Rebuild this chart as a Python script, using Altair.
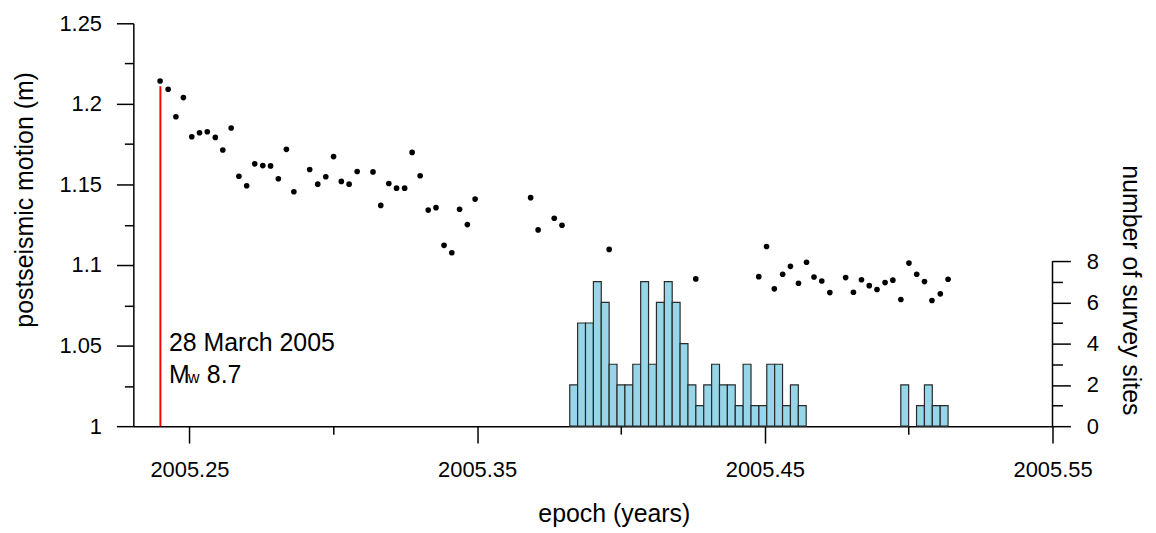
import altair as alt
import pandas as pd

# ---- data ----
# postseismic motion: epoch (decimal years) and motion (m)
epoch = [2005.2398, 2005.2426, 2005.2453, 2005.2479, 2005.2508, 2005.2535, 2005.2562, 2005.2590,
         2005.2616, 2005.2645, 2005.2672, 2005.2699, 2005.2727, 2005.2755, 2005.2782, 2005.2809,
         2005.2837, 2005.2863, 2005.2918, 2005.2946, 2005.2974, 2005.3001, 2005.3028, 2005.3055,
         2005.3083, 2005.3138, 2005.3165, 2005.3193, 2005.3220, 2005.3248, 2005.3274, 2005.3302,
         2005.3330, 2005.3357, 2005.3385, 2005.3412, 2005.3439, 2005.3466, 2005.3493, 2005.3686,
         2005.3712, 2005.3768, 2005.3795, 2005.3959, 2005.4260, 2005.4479, 2005.4506, 2005.4533,
         2005.4562, 2005.4589, 2005.4617, 2005.4645, 2005.4671, 2005.4698, 2005.4726, 2005.4781,
         2005.4808, 2005.4836, 2005.4863, 2005.4890, 2005.4918, 2005.4945, 2005.4973, 2005.5001,
         2005.5028, 2005.5055, 2005.5081, 2005.5110, 2005.5137]
motion = [1.2142, 1.2091, 1.1920, 1.2039, 1.1796, 1.1821, 1.1827, 1.1792,
          1.1714, 1.1850, 1.1551, 1.1492, 1.1628, 1.1617, 1.1615, 1.1535,
          1.1718, 1.1455, 1.1593, 1.1502, 1.1548, 1.1673, 1.1519, 1.1502,
          1.1580, 1.1578, 1.1370, 1.1506, 1.1477, 1.1477, 1.1699, 1.1554,
          1.1341, 1.1356, 1.1122, 1.1076, 1.1346, 1.1251, 1.1409, 1.1418,
          1.1218, 1.1290, 1.1247, 1.1097, 1.0914, 1.0928, 1.1115, 1.0852,
          1.0943, 1.0992, 1.0887, 1.1017, 1.0926, 1.0901, 1.0829, 1.0922,
          1.0831, 1.0909, 1.0872, 1.0848, 1.0891, 1.0906, 1.0786, 1.1012,
          1.0943, 1.0897, 1.0780, 1.0821, 1.0912]

# number of survey sites per day (day of year 2005)
site_day = [140, 141, 142, 143, 144, 145, 146, 147, 148, 149, 150, 151, 152, 153, 154,
            155, 156, 157, 158, 159, 160, 161, 162, 163, 164, 165, 166, 167, 168, 169,
            182, 184, 185, 186, 187]
site_count = [2, 5, 5, 7, 6, 3, 2, 2, 3, 7, 3, 6, 7, 6, 4,
              2, 1, 2, 3, 2, 2, 1, 3, 1, 1, 3, 3, 1, 2, 1,
              2, 1, 2, 1, 1]

quake_epoch = 2005.2399
quake_top = 1.211
annot_x = 2005.2429
annot_lines = ["28 March 2005", "M"]
annot_y = [1.0465, 1.0270]

x_ticks = [2005.25, 2005.30, 2005.35, 2005.40, 2005.45, 2005.50, 2005.55]
y_ticks = [1.0, 1.025, 1.05, 1.075, 1.1, 1.125, 1.15, 1.175, 1.2, 1.225, 1.25]
count_ticks = [0, 1, 2, 3, 4, 5, 6, 7, 8]
x_domain = [2005.2305, 2005.55]
y_domain = [1.0, 1.25]
count_domain = [0, 19.52]

FONT = "Liberation Sans"
W, H = 924, 405

pts = pd.DataFrame({"epoch": epoch, "motion": motion})
bins = pd.DataFrame({"day": site_day, "count": site_count})
bins["left"] = 2005 + (bins["day"] - 0.5) / 365
bins["right"] = 2005 + (bins["day"] + 0.5) / 365
bins["zero"] = 0

xscale = alt.Scale(domain=x_domain, nice=False, zero=False)
yscale = alt.Scale(domain=y_domain, nice=False, zero=False)
cscale = alt.Scale(domain=count_domain, nice=False, zero=True)

common = dict(grid=False, domainColor="black", domainWidth=1.5, tickColor="black",
              tickWidth=1.5, labelFont=FONT, labelFontSize=22, labelColor="black",
              titleFont=FONT, titleFontSize=25, titleFontWeight="normal", titleColor="black",
              labelOverlap=False, labelFlush=False)

major_x = "abs((datum.value - 2005.25) * 10 - round((datum.value - 2005.25) * 10)) < 0.01"
xaxis = alt.Axis(values=x_ticks, title="epoch (years)", orient="bottom",
                 tickSize={"condition": {"test": major_x, "value": 17}, "value": 8},
                 labelExpr=f"{major_x} ? format(datum.value, '.2f') : ''",
                 labelPadding=17, titleX=483, titleY=96, titleAlign="center",
                 titleBaseline="alphabetic", titleAngle=0, **common)

major_y = "abs(datum.value * 20 - round(datum.value * 20)) < 0.01"
yaxis = alt.Axis(values=y_ticks, title="postseismic motion (m)", orient="left",
                 tickSize={"condition": {"test": major_y, "value": 17}, "value": 9},
                 labelExpr=f"{major_y} ? format(datum.value, '~g') : ''",
                 labelPadding=15, titleX=-101, titleY=177, titleAlign="center",
                 titleBaseline="alphabetic", titleAngle=270, **common)

major_c = "datum.value % 2 == 0"
caxis = alt.Axis(values=count_ticks, title="number of survey sites", orient="right",
                 domain=False,
                 tickSize={"condition": {"test": major_c, "value": 18}, "value": 10},
                 labelExpr=f"{major_c} ? format(datum.value, 'd') : ''",
                 labelPadding=16, titleX=70, titleY=268, titleAlign="center",
                 titleBaseline="alphabetic", titleAngle=90, **common)

bars = alt.Chart(bins).mark_bar(color="#96d6e8", stroke="#2a2a2a", strokeWidth=1.2).encode(
    x=alt.X("left:Q", scale=xscale, axis=xaxis),
    x2="right:Q",
    y=alt.Y("count:Q", scale=cscale, axis=caxis),
    y2="zero:Q",
)

right_line = alt.Chart(pd.DataFrame({"xr": [x_ticks[-1]], "c0": [count_ticks[0]], "c1": [count_ticks[-1]]})).mark_rule(
    color="black", strokeWidth=1.5).encode(
    x=alt.X("xr:Q", scale=xscale, axis=xaxis),
    y=alt.Y("c0:Q", scale=cscale, axis=caxis),
    y2="c1:Q",
)

points = alt.Chart(pts).mark_circle(size=32, color="black", opacity=1).encode(
    x=alt.X("epoch:Q", scale=xscale, axis=xaxis),
    y=alt.Y("motion:Q", scale=yscale, axis=yaxis),
)

quake = alt.Chart(pd.DataFrame({"eq": [quake_epoch], "m0": [y_domain[0]], "m1": [quake_top]})).mark_rule(
    color="#ff0000", strokeWidth=2).encode(
    x=alt.X("eq:Q", scale=xscale, axis=xaxis),
    y=alt.Y("m0:Q", scale=yscale, axis=yaxis),
    y2="m1:Q",
)

ann = pd.DataFrame({"ax": [annot_x] * 2, "ay": annot_y, "label": annot_lines})
t_main = alt.Chart(ann).mark_text(align="left", baseline="alphabetic", fontSize=25, font=FONT,
                                  color="black").encode(
    x=alt.X("ax:Q", scale=xscale, axis=xaxis),
    y=alt.Y("ay:Q", scale=yscale, axis=yaxis),
    text="label:N",
)
sub = pd.DataFrame({"ax": [annot_x], "ay": [annot_y[1]], "label": ["w"]})
t_sub = alt.Chart(sub).mark_text(align="left", baseline="alphabetic", fontSize=16, font=FONT,
                                 color="black", dx=19).encode(
    x=alt.X("ax:Q", scale=xscale, axis=xaxis),
    y=alt.Y("ay:Q", scale=yscale, axis=yaxis),
    text="label:N",
)
mag = pd.DataFrame({"ax": [annot_x], "ay": [annot_y[1]], "label": ["8.7"]})
t_mag = alt.Chart(mag).mark_text(align="left", baseline="alphabetic", fontSize=25, font=FONT,
                                 color="black", dx=38).encode(
    x=alt.X("ax:Q", scale=xscale, axis=xaxis),
    y=alt.Y("ay:Q", scale=yscale, axis=yaxis),
    text="label:N",
)

counts_layer = alt.layer(bars, right_line)
motion_layer = alt.layer(points, quake, t_main, t_sub, t_mag)

chart = alt.layer(counts_layer, motion_layer).resolve_scale(y="independent").properties(
    width=W, height=H,
    padding={"left": 126, "top": 14, "right": 96, "bottom": 104},
    autosize=alt.AutoSizeParams(type="none"),
    background="white",
).configure(font=FONT).configure_view(strokeWidth=0, stroke="transparent")

chart.save("out.html", embed_options={"renderer": "svg", "actions": False})
